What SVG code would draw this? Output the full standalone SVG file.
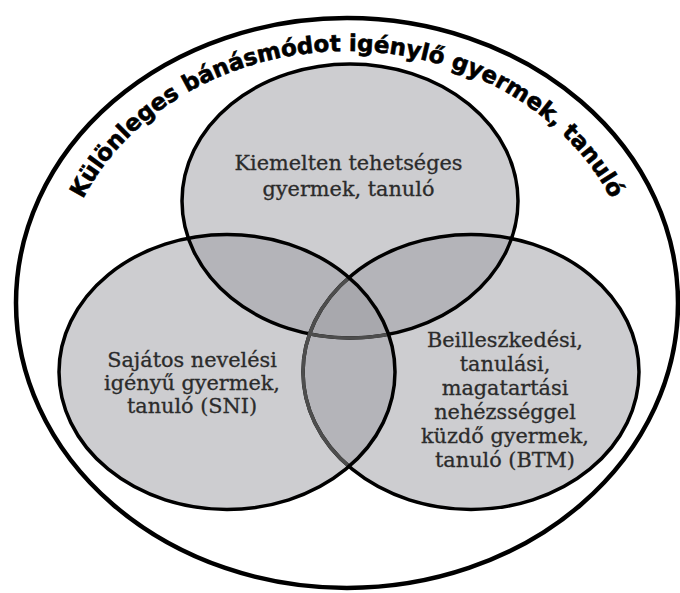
<svg xmlns="http://www.w3.org/2000/svg" width="680" height="593" viewBox="0 0 680 593">
<style>
.set{fill:#9c9ca2;fill-opacity:0.5;stroke:none}
.edge{fill:none;stroke:#000;stroke-width:3.5}
.dim{fill:none;stroke:#4d4d4d;stroke-width:3.5}
.lbl{font-family:"DejaVu Serif","Liberation Serif",serif;font-size:20.8px;fill:#2b2b2b;stroke:#2b2b2b;stroke-width:0.3;text-anchor:middle}
.arc{font-family:"DejaVu Sans","Liberation Sans",sans-serif;font-weight:bold;font-size:23px;fill:#000;stroke:#000;stroke-width:0.6}
</style>
<defs>
<path id="arcPath" d="M66.9,237.8 A290,252 0 0 1 627.1,237.8"/>
<clipPath id="clipL"><ellipse cx="227" cy="372" rx="168" ry="137.5"/></clipPath>
<clipPath id="clipR"><ellipse cx="471" cy="372" rx="168" ry="137.5"/></clipPath>
</defs>
<rect width="680" height="593" fill="#fff"/>
<g id="outer">
<ellipse cx="347" cy="303" rx="331" ry="285" fill="#fff" stroke="#000" stroke-width="4.5"/>
<text class="arc"><textPath href="#arcPath" startOffset="50%" text-anchor="middle">Különleges bánásmódot igénylő gyermek, tanuló</textPath></text>
</g>
<g id="node-talented">
<ellipse class="set" cx="350" cy="201" rx="168" ry="137"/>
<text class="lbl" x="348.5" y="169.5">Kiemelten tehetséges</text>
<text class="lbl" x="348.5" y="195.5">gyermek, tanuló</text>
</g>
<g id="node-btm">
<ellipse class="set" cx="471" cy="372" rx="168" ry="137.5"/>
<text class="lbl" x="505" y="347">Beilleszkedési,</text>
<text class="lbl" x="505" y="371">tanulási,</text>
<text class="lbl" x="505" y="395">magatartási</text>
<text class="lbl" x="505" y="419">nehézsséggel</text>
<text class="lbl" x="505" y="443">küzdő gyermek,</text>
<text class="lbl" x="505" y="467">tanuló (BTM)</text>
</g>
<g id="node-sni">
<ellipse class="set" cx="227" cy="372" rx="168" ry="137.5"/>
<text class="lbl" x="192" y="367">Sajátos nevelési</text>
<text class="lbl" x="192" y="390">igényű gyermek,</text>
<text class="lbl" x="192" y="413">tanuló (SNI)</text>
</g>
<g id="outlines">
<ellipse class="edge" cx="350" cy="201" rx="168" ry="137"/>
<ellipse class="edge" cx="471" cy="372" rx="168" ry="137.5"/>
<g clip-path="url(#clipL)">
<ellipse class="dim" cx="471" cy="372" rx="168" ry="137.5"/>
<g clip-path="url(#clipR)"><ellipse class="dim" cx="350" cy="201" rx="168" ry="137"/></g>
</g>
<ellipse class="edge" cx="227" cy="372" rx="168" ry="137.5"/>
</g>
</svg>
